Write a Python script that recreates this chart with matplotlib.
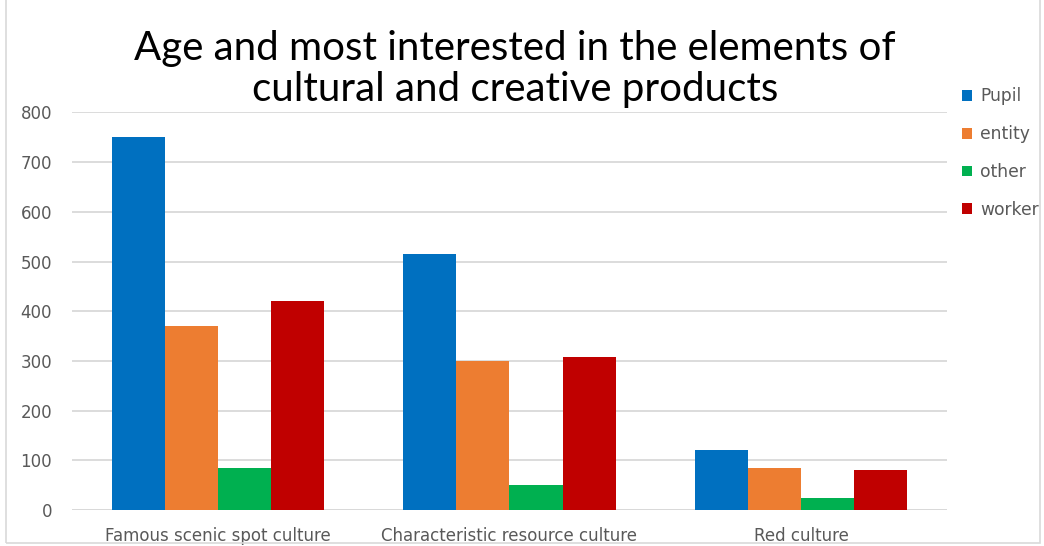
import matplotlib
matplotlib.use("Agg")
import matplotlib.pyplot as plt
import numpy as np
from matplotlib.patches import Rectangle

categories = ["Famous scenic spot culture", "Characteristic resource culture", "Red culture"]
series_names = ["Pupil", "entity", "other", "worker"]
pupil = [750, 515, 120]
entity = [370, 300, 85]
other = [85, 50, 25]
worker = [420, 308, 80]
yticks = [0, 100, 200, 300, 400, 500, 600, 700, 800]

colors = ["#0070C0", "#ED7D31", "#00B050", "#C00000"]
text_grey = "#595959"
grid_grey = "#D9D9D9"

fig = plt.figure(figsize=(10.44, 5.46), dpi=100)
ax = fig.add_axes([0.069, 0.066, 0.838, 0.728])

x = np.arange(len(categories))
bar_w = 0.182
values = [pupil, entity, other, worker]
for i, (name, vals) in enumerate(zip(series_names, values)):
    offset = (i - 1.5) * bar_w
    ax.bar(x + offset, vals, width=bar_w, color=colors[i], label=name, zorder=3)

ax.set_xlim(-0.5, 2.5)
ax.set_ylim(0, 800)
ax.set_yticks(yticks)
ax.set_xticks(x)
ax.set_xticklabels(categories)
ax.yaxis.grid(True, color=grid_grey, linewidth=1.3, zorder=0)
ax.set_axisbelow(True)
for s in ax.spines.values():
    s.set_visible(False)
ax.tick_params(axis="both", length=0, colors=text_grey, labelsize=12)
ax.tick_params(axis="y", pad=14.5)
ax.tick_params(axis="x", pad=12)
for lbl in ax.get_xticklabels() + ax.get_yticklabels():
    lbl.set_color(text_grey)
ax.axhline(0, color=grid_grey, linewidth=1.3, zorder=1)

fig.text(0.493, 0.874, "Age and most interested in the elements of\ncultural and creative products",
         ha="center", va="center", fontsize=29, family="Lato", linespacing=1.13, color="black")

leg = fig.legend(loc="upper left", bbox_to_anchor=(0.921, 0.84), frameon=False,
                 fontsize=12.3, handlelength=0.6, handleheight=0.6, handletextpad=0.5,
                 labelspacing=1.16, borderaxespad=0, borderpad=0)
for t in leg.get_texts():
    t.set_color(text_grey)

fig.patches.append(Rectangle((0.006, 0.005), 0.99, 1.2, transform=fig.transFigure,
                             fill=False, edgecolor="#D9D9D9", linewidth=1.2))

fig.savefig("out.png", dpi=100)
